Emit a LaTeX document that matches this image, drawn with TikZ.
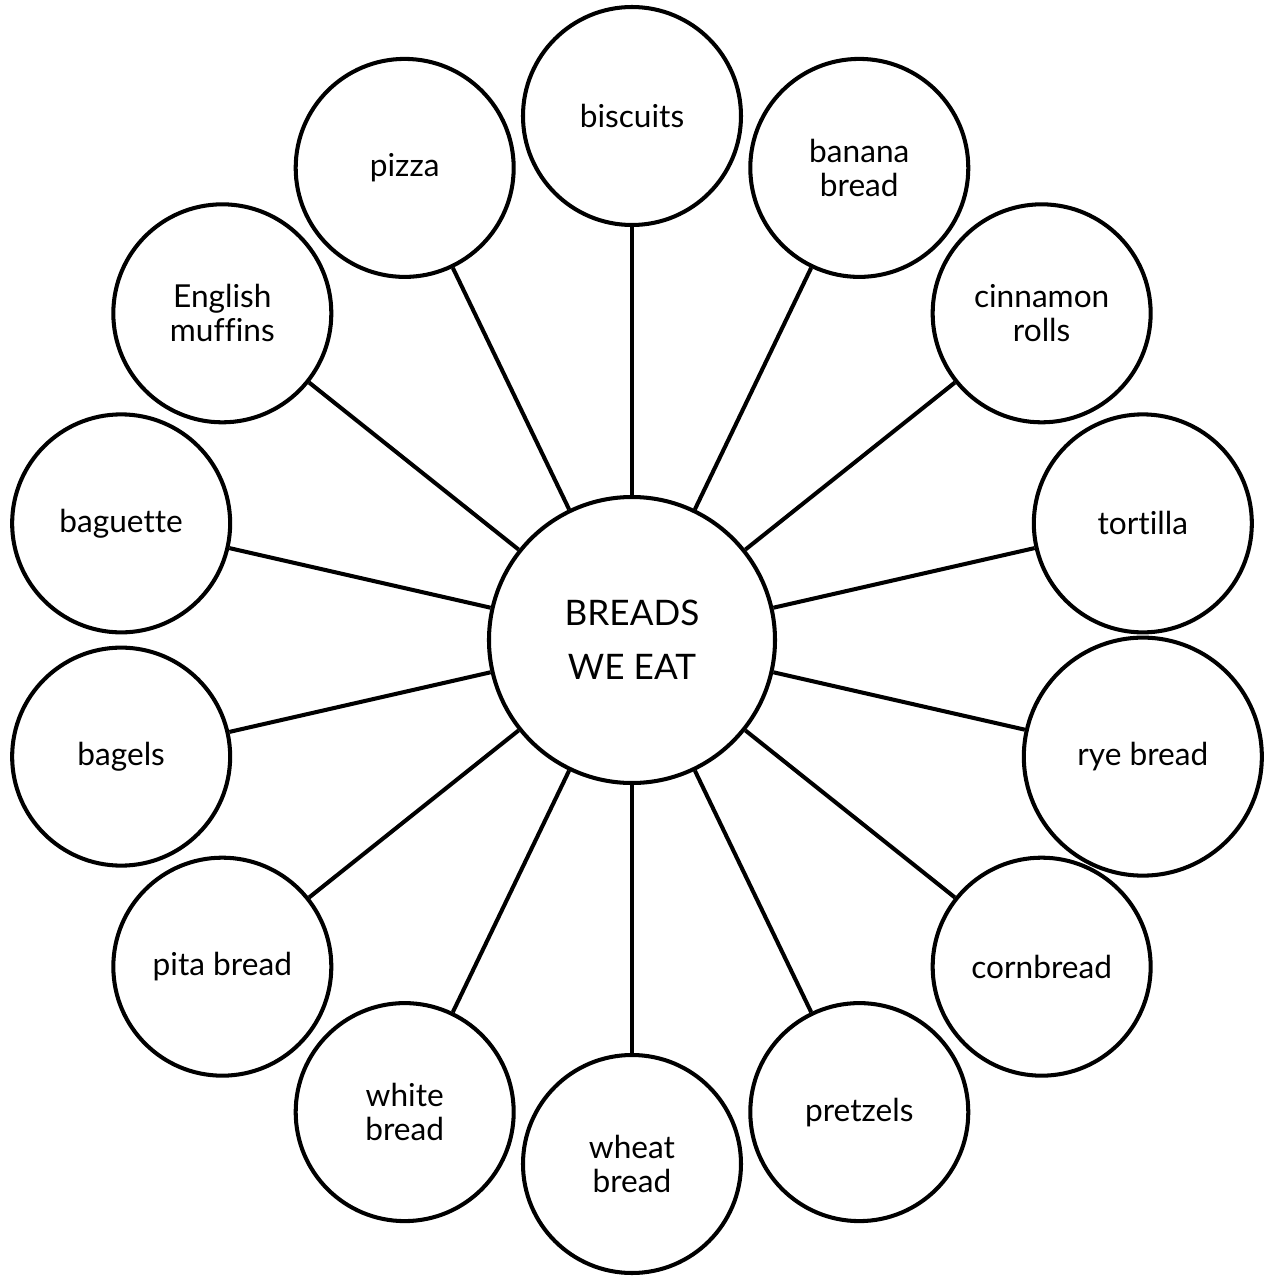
\documentclass[tikz,border=0pt]{standalone}
\usepackage{fontspec}
\setmainfont{Lato}[Ligatures=CommonOff]
\usepackage{tikz}
\usetikzlibrary{positioning}

\begin{document}
\begin{tikzpicture}[line width = 2.3pt,
        bread/.style = {circle, draw, minimum size = 4.36cm, inner sep = 0pt, align = center, font = \fontsize{18}{19.5}\selectfont},
        hub/.style = {circle, draw, minimum size = 5.72cm, inner sep = 0pt, align = center, font = \fontsize{20}{31}\selectfont}]
        \useasboundingbox (-12.64, 12.80) rectangle (12.68, -12.74);

        \node[hub] (breads) at (0, 0) {BREADS\\WE EAT};

        \node[bread] (biscuits) at (90:10.48) {biscuits};
        \node[bread] (bananaBread) at (64.29:10.48) {banana\\bread};
        \node[bread] (cinnamonRolls) at (38.57:10.48) {cinnamon\\rolls};
        \node[bread] (tortilla) at (12.86:10.48) {tortilla};
        \node[bread, minimum size = 4.76cm] (ryeBread) at (-12.86:10.48) {rye bread};
        \node[bread] (cornbread) at (-38.57:10.48) {cornbread};
        \node[bread] (pretzels) at (-64.29:10.48) {pretzels};
        \node[bread] (wheatBread) at (-90:10.48) {wheat\\bread};
        \node[bread] (whiteBread) at (-115.71:10.48) {white\\bread};
        \node[bread] (pitaBread) at (-141.43:10.48) {pita bread};
        \node[bread] (bagels) at (-167.14:10.48) {bagels};
        \node[bread] (baguette) at (167.14:10.48) {baguette};
        \node[bread] (englishMuffins) at (141.43:10.48) {English\\muffins};
        \node[bread] (pizza) at (115.71:10.48) {pizza};

        \draw (breads) edge (biscuits);
        \draw (breads) edge (bananaBread);
        \draw (breads) edge (cinnamonRolls);
        \draw (breads) edge (tortilla);
        \draw (breads) edge (ryeBread);
        \draw (breads) edge (cornbread);
        \draw (breads) edge (pretzels);
        \draw (breads) edge (wheatBread);
        \draw (breads) edge (whiteBread);
        \draw (breads) edge (pitaBread);
        \draw (breads) edge (bagels);
        \draw (breads) edge (baguette);
        \draw (breads) edge (englishMuffins);
        \draw (breads) edge (pizza);
      \end{tikzpicture}
\end{document}
